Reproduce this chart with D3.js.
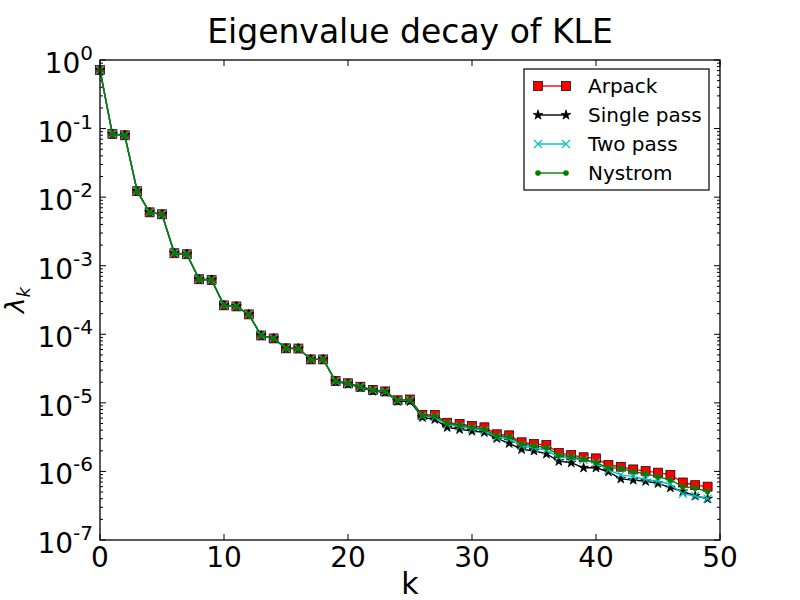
<!DOCTYPE html>
<html>
<head>
<meta charset="utf-8">
<script src="https://cdn.jsdelivr.net/npm/d3@7"></script>
<style>
  body { margin: 0; background: #fff; }
  text { font-family: "DejaVu Sans", sans-serif; fill: #000; }
</style>
</head>
<body>
<div class="canvas"></div>
<script>
const width = 800, height = 600

// data
const ks = [0,1,2,3,4,5,6,7,8,9,10,11,12,13,14,15,16,17,18,19,20,21,22,23,24,
    25,26,27,28,29,30,31,32,33,34,35,36,37,38,39,40,41,42,43,44,45,46,47,48,49]

const arpack = [0.715, 0.0833, 0.0798, 0.0122, 0.0060, 0.00562, 0.00152, 0.00147, 6.34e-4, 6.2e-4,
    2.64e-4, 2.55e-4, 1.95e-4, 9.6e-5, 8.7e-5, 6.24e-5, 6.2e-5, 4.3e-5, 4.3e-5, 2.08e-5,
    1.93e-5, 1.72e-5, 1.54e-5, 1.47e-5, 1.09e-5, 1.12e-5, 6.65e-6, 6.65e-6, 5.13e-6, 4.92e-6,
    4.59e-6, 4.40e-6, 3.48e-6, 3.36e-6, 2.66e-6, 2.51e-6, 2.43e-6, 1.86e-6, 1.73e-6, 1.61e-6,
    1.55e-6, 1.24e-6, 1.17e-6, 1.07e-6, 1.01e-6, 9.6e-7, 8.9e-7, 6.9e-7, 6.3e-7, 6.0e-7]

const singlePass = [0.715, 0.0833, 0.0798, 0.0122, 0.0060, 0.00562, 0.00152, 0.00147, 6.34e-4, 6.2e-4,
    2.64e-4, 2.55e-4, 1.95e-4, 9.6e-5, 8.7e-5, 6.24e-5, 6.2e-5, 4.3e-5, 4.3e-5, 2.05e-5,
    1.88e-5, 1.68e-5, 1.49e-5, 1.43e-5, 1.06e-5, 1.05e-5, 6.15e-6, 5.75e-6, 4.40e-6, 4.11e-6,
    3.88e-6, 3.71e-6, 3.04e-6, 2.57e-6, 2.10e-6, 2.00e-6, 1.80e-6, 1.41e-6, 1.34e-6, 1.13e-6,
    1.13e-6, 9.9e-7, 7.8e-7, 7.5e-7, 7.2e-7, 6.7e-7, 5.8e-7, 5.1e-7, 4.4e-7, 4.0e-7]

const twoPass = [0.715, 0.0833, 0.0798, 0.0122, 0.0060, 0.00562, 0.00152, 0.00147, 6.34e-4, 6.2e-4,
    2.64e-4, 2.55e-4, 1.95e-4, 9.6e-5, 8.7e-5, 6.24e-5, 6.2e-5, 4.3e-5, 4.3e-5, 2.07e-5,
    1.92e-5, 1.71e-5, 1.53e-5, 1.46e-5, 1.08e-5, 1.10e-5, 6.4e-6, 6.2e-6, 4.8e-6, 4.5e-6,
    4.2e-6, 3.95e-6, 3.15e-6, 3.0e-6, 2.35e-6, 2.2e-6, 2.05e-6, 1.6e-6, 1.55e-6, 1.47e-6,
    1.34e-6, 1.05e-6, 8.9e-7, 8.4e-7, 7.7e-7, 7.2e-7, 6.5e-7, 4.7e-7, 4.4e-7, 4.0e-7]

const nystrom = [0.715, 0.0833, 0.0798, 0.0122, 0.0060, 0.00562, 0.00152, 0.00147, 6.34e-4, 6.2e-4,
    2.64e-4, 2.55e-4, 1.95e-4, 9.6e-5, 8.7e-5, 6.24e-5, 6.2e-5, 4.3e-5, 4.3e-5, 2.08e-5,
    1.93e-5, 1.72e-5, 1.54e-5, 1.47e-5, 1.09e-5, 1.11e-5, 6.5e-6, 6.4e-6, 5.03e-6, 4.75e-6,
    4.40e-6, 4.11e-6, 3.29e-6, 3.21e-6, 2.51e-6, 2.37e-6, 2.22e-6, 1.73e-6, 1.64e-6, 1.50e-6,
    1.34e-6, 1.13e-6, 1.11e-6, 9.9e-7, 9.2e-7, 8.4e-7, 7.5e-7, 6.0e-7, 5.7e-7, 5.1e-7]

const xTicks = [0, 10, 20, 30, 40, 50]
const yExps = [0, -1, -2, -3, -4, -5, -6, -7]
const seriesNames = ['Arpack', 'Single pass', 'Two pass', 'Nystrom']

const svg = d3.select('.canvas').append('svg').attr('width', width).attr('height', height)

let [mt, mr, mb, ml] = [60, 80, 60, 100]
const graphWidth = width - ml - mr
const graphHeight = height - mt - mb

const graph = svg.append('g').attr('transform', `translate(${ml}, ${mt})`)

const x = d3.scaleLinear().domain([0, 50]).range([0, graphWidth])
const y = d3.scaleLog().domain([1e-7, 1]).range([graphHeight, 0])

// minor log ticks
const minor = []
yExps.slice(1).forEach(e => { for (let m = 2; m <= 9; m++) minor.push(m * Math.pow(10, e)) })

const ticksG = graph.append('g').attr('stroke', '#000').attr('stroke-width', 1)
xTicks.forEach(t => {
    ticksG.append('line').attr('x1', x(t)).attr('x2', x(t)).attr('y1', graphHeight).attr('y2', graphHeight - 6)
    ticksG.append('line').attr('x1', x(t)).attr('x2', x(t)).attr('y1', 0).attr('y2', 6)
})
yExps.forEach(e => {
    const v = Math.pow(10, e)
    ticksG.append('line').attr('x1', 0).attr('x2', 6).attr('y1', y(v)).attr('y2', y(v))
    ticksG.append('line').attr('x1', graphWidth).attr('x2', graphWidth - 6).attr('y1', y(v)).attr('y2', y(v))
})
minor.forEach(v => {
    ticksG.append('line').attr('x1', 0).attr('x2', 3).attr('y1', y(v)).attr('y2', y(v))
    ticksG.append('line').attr('x1', graphWidth).attr('x2', graphWidth - 3).attr('y1', y(v)).attr('y2', y(v))
})

// tick labels
graph.selectAll('.xlab').data(xTicks).enter().append('text')
    .attr('x', d => x(d)).attr('y', graphHeight + 27)
    .attr('text-anchor', 'middle').style('font-size', '28px')
    .text(d => d)

const ylab = graph.selectAll('.ylab').data(yExps).enter().append('text')
    .attr('x', -7).attr('y', d => y(Math.pow(10, d)) + 13)
    .attr('text-anchor', 'end').style('font-size', '28px')
ylab.append('tspan').text('10')
ylab.append('tspan').attr('dy', -13).style('font-size', '20px').text(d => d)

// series
const lineGen = d3.line().x((d, i) => x(ks[i])).y(d => y(d))
const clip = svg.append('clipPath').attr('id', 'clip').append('rect')
    .attr('x', -6).attr('y', -6).attr('width', graphWidth + 12).attr('height', graphHeight + 12)
const plot = graph.append('g').attr('clip-path', 'url(#clip)')

const starPath = d3.symbol().type(d3.symbolStar).size(30)()
const xPath = 'M-4,-4L4,4M-4,4L4,-4'

function drawSeries(g, vals, color, marker) {
    g.append('path').datum(vals).attr('d', lineGen)
        .attr('fill', 'none').attr('stroke', color).attr('stroke-width', 1.4)
    vals.forEach((v, i) => drawMarker(g, x(ks[i]), y(v), color, marker))
}

function drawMarker(g, cx, cy, color, marker) {
    if (marker === 'square') {
        g.append('rect').attr('x', cx - 4.5).attr('y', cy - 4.5).attr('width', 9).attr('height', 9)
            .attr('fill', color).attr('stroke', '#000').attr('stroke-width', 0.7)
    } else if (marker === 'star') {
        g.append('path').attr('d', starPath).attr('transform', `translate(${cx},${cy})`)
            .attr('fill', color).attr('stroke', '#000').attr('stroke-width', 0.7)
    } else if (marker === 'x') {
        g.append('path').attr('d', xPath).attr('transform', `translate(${cx},${cy})`)
            .attr('fill', 'none').attr('stroke', color).attr('stroke-width', 1.1)
    } else {
        g.append('circle').attr('cx', cx).attr('cy', cy).attr('r', 2.6)
            .attr('fill', color).attr('stroke', color).attr('stroke-width', 0.5)
    }
}

const styles = [
    { vals: arpack, color: '#ff0000', marker: 'square' },
    { vals: singlePass, color: '#000000', marker: 'star' },
    { vals: twoPass, color: '#00bfbf', marker: 'x' },
    { vals: nystrom, color: '#008000', marker: 'dot' }
]
styles.forEach(s => drawSeries(plot, s.vals, s.color, s.marker))

// frame
graph.append('rect').attr('width', graphWidth).attr('height', graphHeight)
    .attr('fill', 'none').attr('stroke', '#000').attr('stroke-width', 1.3)

// legend
const legend = svg.append('g').attr('transform', 'translate(524, 69)')
legend.append('rect').attr('width', 185).attr('height', 121)
    .attr('fill', '#fff').attr('stroke', '#000').attr('stroke-width', 1.2)
seriesNames.forEach((name, i) => {
    const ly = 17 + i * 29
    const s = styles[i]
    legend.append('line').attr('x1', 14).attr('x2', 42).attr('y1', ly).attr('y2', ly)
        .attr('stroke', s.color).attr('stroke-width', 1.4)
    drawMarker(legend, 14, ly, s.color, s.marker)
    drawMarker(legend, 42, ly, s.color, s.marker)
    legend.append('text').attr('x', 64).attr('y', ly + 7).style('font-size', '20px').text(name)
})

// titles
svg.append('text').attr('x', ml + graphWidth / 2).attr('y', 43)
    .attr('text-anchor', 'middle').style('font-size', '33px').text('Eigenvalue decay of KLE')
svg.append('text').attr('x', ml + graphWidth / 2).attr('y', 594)
    .attr('text-anchor', 'middle').style('font-size', '30px').text('k')
const yl = svg.append('text').attr('transform', 'translate(24, 300) rotate(-90)')
    .attr('text-anchor', 'middle').style('font-size', '26px').style('font-style', 'italic')
yl.append('tspan').text('λ')
yl.append('tspan').attr('dy', 6).style('font-size', '18px').text('k')
</script>
</body>
</html>
